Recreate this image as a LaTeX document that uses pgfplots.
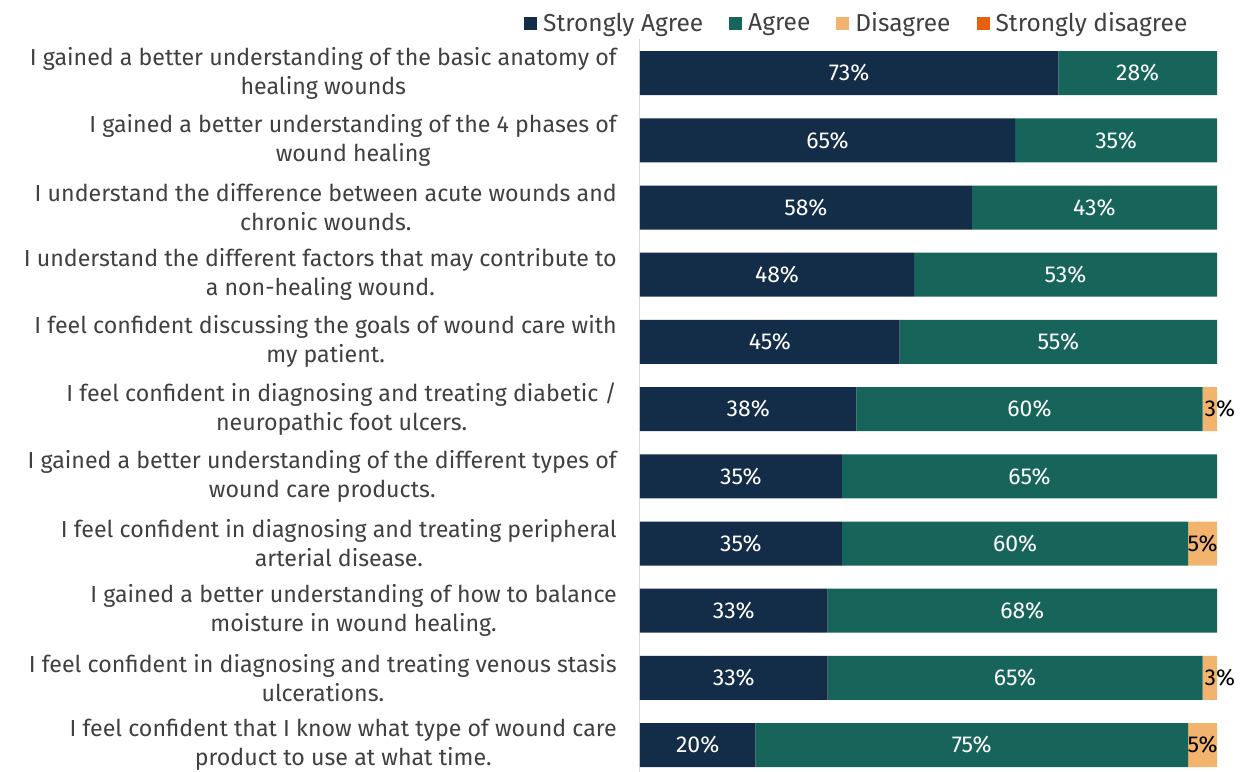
\documentclass[border=0pt]{standalone}
\usepackage{fontspec}
\setmainfont{Fira Sans}
\usepackage{pgfplots}
\pgfplotsset{compat=1.18}
\definecolor{sa}{HTML}{132C48}
\definecolor{ag}{HTML}{17655A}
\definecolor{di}{HTML}{F2B46C}
\definecolor{sd}{HTML}{E8600F}
\definecolor{lab}{HTML}{404040}
\begin{document}
\begin{tikzpicture}
\begin{axis}[
  scale only axis,
  width=577pt, height=732.5pt,
  xbar stacked, bar width=44pt,
  xmin=0, xmax=100,
  ymin=-0.5, ymax=10.4,
  y dir=reverse,
  axis x line=none,
  axis y line*=left,
  y axis line style={draw=black!15, line width=1pt},
  xtick=\empty,
  ytick={0,...,10},
  major tick length=0pt,
  yticklabel style={align=center, font=\fontsize{23.2}{29}\selectfont, text=lab, inner sep=0pt, xshift=-23pt},
  yticklabels={
    {I gained a better understanding of the basic anatomy of\\healing wounds},
    {I gained a better understanding of the 4 phases of\\wound healing},
    {I understand the difference between acute wounds and\\chronic wounds.},
    {I understand the different factors that may contribute to\\a non-healing wound.},
    {I feel confident discussing the goals of wound care with\\my patient.},
    {I feel confident in diagnosing and treating diabetic /\\neuropathic foot ulcers.},
    {I gained a better understanding of the different types of\\wound care products.},
    {I feel confident in diagnosing and treating peripheral\\arterial disease.},
    {I gained a better understanding of how to balance\\moisture in wound healing.},
    {I feel confident in diagnosing and treating venous stasis\\ulcerations.},
    {I feel confident that I know what type of wound care\\product to use at what time.}},
  point meta=explicit symbolic,
  nodes near coords,
  visualization depends on={rawx \as \rawx},
  every node near coord/.append style={anchor=center, font=\fontsize{23}{25}\selectfont},
  legend columns=-1,
  legend style={at={(-0.201,1.0225)}, anchor=west, draw=none, fill=none, inner sep=0pt,
    font=\fontsize{24.5}{26}\selectfont, text=lab,
    nodes={inner xsep=0pt, inner ysep=0pt},
    /tikz/every odd column/.append style={column sep=6pt},
    /tikz/every even column/.append style={column sep=26pt}},
  legend image code/.code={\fill[#1] (0pt,-6.5pt) rectangle (13pt,6.5pt);},
]
\addplot[fill=sa, draw=none, every node near coord/.append style={text=white}] coordinates {
  (72.5,0) [73\%] (65,1) [65\%] (57.5,2) [58\%] (47.5,3) [48\%] (45,4) [45\%]
  (37.5,5) [38\%] (35,6) [35\%] (35,7) [35\%] (32.5,8) [33\%] (32.5,9) [33\%] (20,10) [20\%]};
\addlegendentry{Strongly Agree}
\addplot[fill=ag, draw=none, every node near coord/.append style={text=white}] coordinates {
  (27.5,0) [28\%] (35,1) [35\%] (42.5,2) [43\%] (52.5,3) [53\%] (55,4) [55\%]
  (60,5) [60\%] (65,6) [65\%] (60,7) [60\%] (67.5,8) [68\%] (65,9) [65\%] (75,10) [75\%]};
\addlegendentry{Agree}
\addplot[fill=di, draw=none, every node near coord/.append style={text=black, xshift={(5-\rawx)*4pt}}] coordinates {
  (0,0) [] (0,1) [] (0,2) [] (0,3) [] (0,4) []
  (2.5,5) [3\%] (0,6) [] (5,7) [5\%] (0,8) [] (2.5,9) [3\%] (5,10) [5\%]};
\addlegendentry{Disagree}
\addlegendimage{fill=sd, draw=none}
\addlegendentry{Strongly disagree}
\end{axis}
\pgfresetboundingbox
\path[use as bounding box] (-640pt,1pt) rectangle (604pt,772pt);
\end{tikzpicture}
\end{document}
